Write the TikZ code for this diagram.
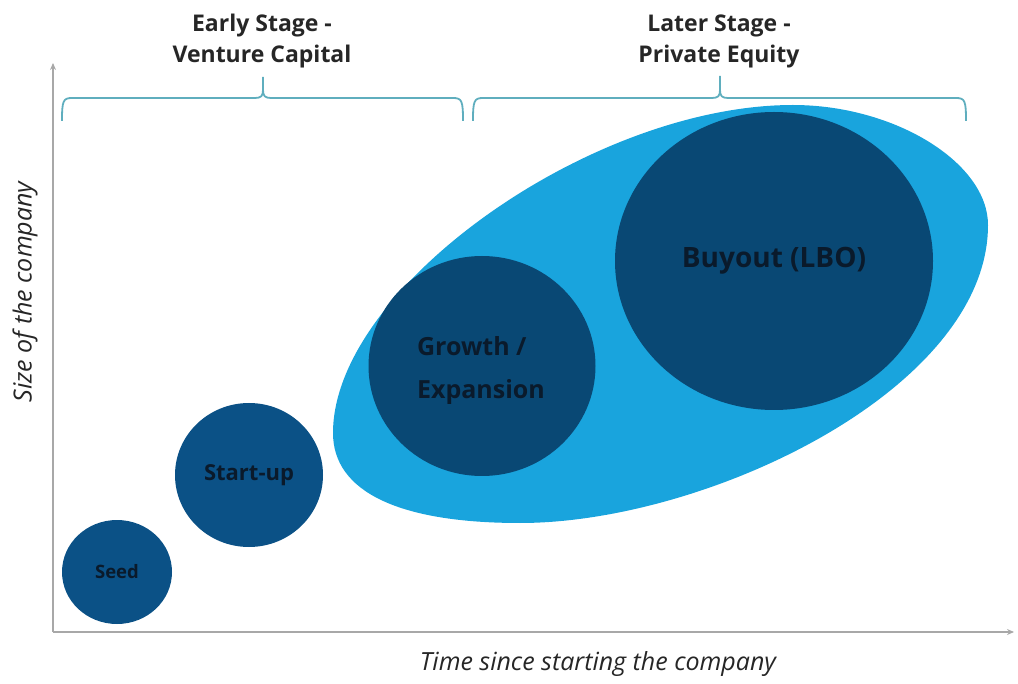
\documentclass[tikz,border=0pt]{standalone}
\usepackage{fontspec}
\setmainfont{Open Sans}
\usetikzlibrary{arrows.meta,shapes.geometric}
\definecolor{lightblue}{HTML}{19A4DD}
\definecolor{darkblueA}{HTML}{0B5186}
\definecolor{darkblueB}{HTML}{094874}
\definecolor{bracecol}{HTML}{5FAEBE}
\definecolor{axiscol}{HTML}{A8A8A8}
\definecolor{labelcol}{HTML}{0A1A2B}
\begin{document}
\begin{tikzpicture}[x=1pt,y=-1pt,
  stagecircle/.style={ellipse,inner sep=0pt,text=labelcol},
  headertext/.style={align=center,font=\fontsize{23}{31}\selectfont\bfseries,text=black!85},
  axislabel/.style={font=\fontsize{25}{28}\selectfont\itshape,text=black!85},
  bracepath/.style={draw=bracecol,line width=1.8pt},
  axispath/.style={draw=axiscol,line width=2.2pt,-{Stealth[length=7pt,width=6pt]}}]
\useasboundingbox (0,0) rectangle (1018,684);
% axes
\coordinate (O) at (53,632);
\coordinate (ytop) at (53,63);
\coordinate (xend) at (1014,632);
\draw[axispath] (O) -- (ytop);
\draw[axispath] (O) -- (xend);
\node[axislabel] (xlab) at (598,664) {Time since starting the company};
\node[axislabel,rotate=90] (ylab) at (25,292) {Size of the company};
% big tilted oval
\fill[lightblue] (793,105) .. controls (894.4,105) and (988,162.6) .. (988,225)
  .. controls (988,389) and (707,523) .. (520,523)
  .. controls (398.5,523) and (333,491.5) .. (333,433)
  .. controls (333,288.7) and (590.6,105) .. (793,105) -- cycle;
% stage circles
\node[stagecircle,fill=darkblueA,minimum width=110pt,minimum height=104pt,font=\fontsize{18.5}{22}\selectfont\bfseries] (seed) at (117,572) {Seed};
\node[stagecircle,fill=darkblueA,minimum width=148pt,minimum height=144pt,font=\fontsize{22}{26}\selectfont\bfseries] (startup) at (249,475) {Start-up};
\node[stagecircle,fill=darkblueB,minimum width=227pt,minimum height=220pt] (growth) at (482,366) {};
\node[align=left,text=labelcol,font=\fontsize{25}{43}\selectfont\bfseries] (growthlab) at (481,371) {Growth /\\Expansion};
\node[stagecircle,fill=darkblueB,minimum width=318pt,minimum height=298pt,font=\fontsize{28}{32}\selectfont\bfseries] (buyout) at (774,261) {Buyout (LBO)};
% braces
\coordinate (lb1) at (62,121);
\coordinate (lbm) at (263,77);
\coordinate (lb2) at (463,121);
\draw[bracepath] (lb1) .. controls (62,101) and (63,98) .. (72,98) -- (255,98)
  .. controls (261,98) and (263,96) .. (263,90) -- (lbm);
\draw[bracepath] (263,90) .. controls (263,96) and (265,98) .. (271,98) -- (453,98)
  .. controls (462,98) and (463,101) .. (lb2);
\coordinate (rb1) at (473,121);
\coordinate (rbm) at (720,76);
\coordinate (rb2) at (966,121);
\draw[bracepath] (rb1) .. controls (473,101) and (474,98) .. (483,98) -- (712,98)
  .. controls (718,98) and (720,96) .. (720,90) -- (rbm);
\draw[bracepath] (720,90) .. controls (720,96) and (722,98) .. (728,98) -- (956,98)
  .. controls (965,98) and (966,101) .. (rb2);
\node[headertext] (early) at (262,41) {Early Stage -\\Venture Capital};
\node[headertext] (later) at (719,41) {Later Stage -\\Private Equity};
\end{tikzpicture}
\end{document}
